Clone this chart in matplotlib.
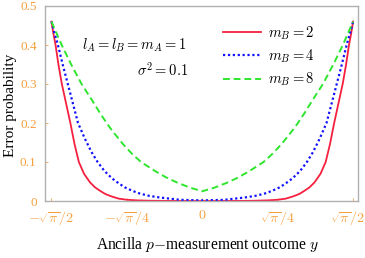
import numpy as np
import matplotlib
matplotlib.use("Agg")
import matplotlib.pyplot as plt

plt.rcParams['mathtext.fontset'] = 'cm'
plt.rcParams['font.family'] = ['Liberation Serif', 'DejaVu Serif']

# Data
x_red = [-0.886, -0.875, -0.862, -0.845, -0.825, -0.80, -0.775, -0.75, -0.725, -0.695, -0.66, -0.63,
         -0.6, -0.57, -0.535, -0.49, -0.44, -0.38, -0.3, -0.2, 0.0,
         0.2, 0.3, 0.38, 0.44, 0.49, 0.535, 0.57, 0.6, 0.63, 0.66, 0.695, 0.725, 0.75, 0.775,
         0.80, 0.825, 0.845, 0.862, 0.875, 0.886]
y_red = [0.46, 0.43, 0.40, 0.35, 0.30, 0.25, 0.20, 0.145, 0.10, 0.07, 0.048, 0.035,
         0.026, 0.018, 0.012, 0.006, 0.003, 0.0015, 0.0006, 0.0002, 0.0,
         0.0002, 0.0006, 0.0015, 0.003, 0.006, 0.012, 0.018, 0.026, 0.035, 0.048, 0.07, 0.10, 0.145, 0.20,
         0.25, 0.30, 0.35, 0.40, 0.43, 0.46]

x_blue = [-0.886, -0.868, -0.848, -0.82, -0.79, -0.76, -0.73, -0.69, -0.65, -0.615, -0.575, -0.53,
          -0.49, -0.455, -0.41, -0.366, -0.31, -0.25, -0.13, 0.0,
          0.13, 0.25, 0.31, 0.366, 0.41, 0.455, 0.49, 0.53, 0.575, 0.615, 0.65, 0.69, 0.73,
          0.76, 0.79, 0.82, 0.848, 0.868, 0.886]
y_blue = [0.46, 0.43, 0.40, 0.35, 0.30, 0.25, 0.20, 0.16, 0.125, 0.10, 0.077, 0.058,
          0.045, 0.035, 0.026, 0.019, 0.013, 0.009, 0.003, 0.0015,
          0.003, 0.009, 0.013, 0.019, 0.026, 0.035, 0.045, 0.058, 0.077, 0.10, 0.125, 0.16, 0.20,
          0.25, 0.30, 0.35, 0.40, 0.43, 0.46]

x_green = [-0.886, -0.826, -0.77, -0.709, -0.647, -0.6, -0.562, -0.532, -0.47, -0.415, -0.36,
           -0.278, -0.21, -0.141, -0.07, 0.0,
           0.07, 0.141, 0.21, 0.278, 0.36, 0.415, 0.47, 0.532, 0.562, 0.6, 0.647, 0.709,
           0.77, 0.826, 0.886]
y_green = [0.46, 0.40, 0.35, 0.30, 0.258, 0.225, 0.20, 0.182, 0.148, 0.122, 0.10,
           0.077, 0.06, 0.046, 0.034, 0.025,
           0.034, 0.046, 0.06, 0.077, 0.10, 0.122, 0.148, 0.182, 0.20, 0.225, 0.258, 0.30,
           0.35, 0.40, 0.46]

series_labels = [r'$m_B = 2$', r'$m_B = 4$', r'$m_B = 8$']
xtick_vals = [-np.sqrt(np.pi)/2, -np.sqrt(np.pi)/4, 0, np.sqrt(np.pi)/4, np.sqrt(np.pi)/2]
xtick_labels = [r'$-\sqrt{\pi}/2$', r'$-\sqrt{\pi}/4$', r'$0$', r'$\sqrt{\pi}/4$', r'$\sqrt{\pi}/2$']
ytick_vals = [0, 0.1, 0.2, 0.3, 0.4, 0.5]
ytick_labels = ['0', '0.1', '0.2', '0.3', '0.4', '0.5']

fig = plt.figure(figsize=(3.65, 2.58), dpi=100)
ax = fig.add_axes([45/365, 1-201/258, (358-45)/365, (201-6)/258])

red = '#f5203f'
blue = '#1212ff'
green = '#2ee62e'
orange = '#f5a040'

ax.plot(x_red, y_red, color=red, lw=1.3, ls='-', label=series_labels[0])
ax.plot(x_blue, y_blue, color=blue, lw=1.6, ls=(0, (1, 1.2)), label=series_labels[1])
ax.plot(x_green, y_green, color=green, lw=1.4, ls=(0, (3.5, 2)), label=series_labels[2])

ax.set_xlim(-0.924, 0.915)
ax.set_ylim(0, 0.5)

ax.set_xticks(xtick_vals)
# last label is drawn separately (shifted left so it stays inside the figure)
ax.set_xticklabels(xtick_labels[:-1] + [''])
ax.annotate(xtick_labels[-1], xy=(xtick_vals[-1], 0), xycoords=('data', 'axes fraction'),
            xytext=(-4, -5.5), textcoords='offset points', ha='center', va='top',
            fontsize=10.2, color=orange)
ax.set_yticks(ytick_vals)
ax.set_yticklabels(ytick_labels)
ax.tick_params(direction='in', length=2.5, width=0.6, color=orange, labelcolor=orange)
ax.tick_params(axis='y', labelsize=9.5, pad=6)
ax.tick_params(axis='x', pad=5.5, labelsize=10.2)
for s in ax.spines.values():
    s.set_color('#b0b0b0')
    s.set_linewidth(1.0)

fig.text(11/365, 1-105/258, 'Error probability', rotation=90, ha='center', va='center', fontsize=11)
fig.text(207/365, 1-245/258, r'Ancilla $p$$-$measurement outcome $y$', ha='center', va='center',
         fontsize=11.2)

fig.text(187/365, 1-45/258, r'$l_A = l_B = m_A = 1$', ha='right', va='center', fontsize=10.5)
fig.text(188/365, 1-70/258, r'$\sigma^2 = 0.1$', ha='right', va='center', fontsize=10.5)

leg = ax.legend(loc='upper left', bbox_to_anchor=(213/365, 1-14/258),
                bbox_transform=fig.transFigure, frameon=False, fontsize=10.5,
                handlelength=2.6, handletextpad=0.45, labelspacing=0.4, borderpad=0.2)

fig.savefig('out.png', dpi=100)
